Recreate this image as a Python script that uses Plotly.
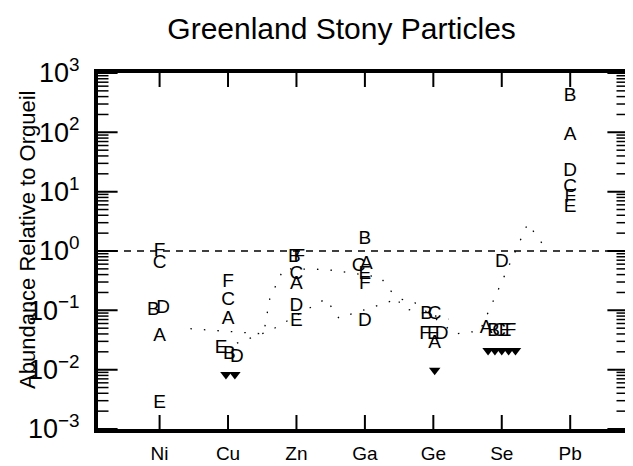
import plotly.graph_objects as go

# ---------------- data ----------------
elements = ["Ni", "Cu", "Zn", "Ga", "Ge", "Se", "Pb"]
samples = ["A", "B", "C", "D", "E", "F"]

A = [0.037, 0.071, 0.28, 0.59, 0.028, 0.050, 90]
B = [0.10, 0.018, 0.77, 1.6, 0.085, 0.045, 400]
C = [0.63, 0.15, 0.40, 0.55, 0.085, 0.045, 12]
D = [0.11, 0.016, 0.116, 0.066, 0.040, 0.65, 22]
E = [0.0027, 0.023, 0.066, 0.40, 0.040, 0.045, 5.5]
F = [1.0, 0.30, 0.77, 0.27, 0.040, 0.045, 8]
values = {"A": A, "B": B, "C": C, "D": D, "E": E, "F": F}

# upper limits (down triangles)
limit_elements = ["Cu", "Cu", "Ge", "Se", "Se", "Se", "Se", "Se"]
limit_values = [0.0083, 0.0083, 0.0098, 0.021, 0.021, 0.021, 0.021, 0.021]

# reference level (Orgueil = 1)
ref_level = 1.0

# faint dotted curves (category position, value)
dot1_x = [1.45, 2.52, 2.61, 2.81, 3.43, 4.23, 4.57, 5.22]
dot1_y = [0.049, 0.040, 0.157, 0.50, 0.49, 0.36, 0.108, 0.071]
dot2_x = [2.13, 2.61, 3.43, 3.62, 4.49, 4.71, 5.32, 5.68, 6.38, 6.62]
dot2_y = [0.028, 0.045, 0.157, 0.074, 0.157, 0.14, 0.040, 0.045, 2.9, 1.2]

# y axis decades and tick labels
decades = [-3, -2, -1, 0, 1, 2, 3]
ytick_alias = {"0.001": "10<sup>−3</sup>", "0.01": "10<sup>−2</sup>", "0.1": "10<sup>−1</sup>",
               "1": "10<sup>0</sup>", "10": "10<sup>1</sup>", "100": "10<sup>2</sup>",
               "1000": "10<sup>3</sup>"}

# ---------------- layout helpers ----------------
x_range = [0.1, 7.83]
shift = {
    "A": [0, 0, 0, 0.02, 0.02, -0.23, 0],
    "B": [-0.09, 0.02, -0.03, 0, -0.1, -0.12, 0],
    "C": [0, 0, 0, -0.09, 0.02, -0.04, 0],
    "D": [0.05, 0.13, 0, 0, 0.12, 0, 0],
    "E": [0, -0.1, 0, 0, 0.0, 0.05, 0],
    "F": [0, 0, 0.04, 0, -0.12, 0.13, 0],
}
limit_shift = [-0.03, 0.1, 0.02, -0.2, -0.1, 0.0, 0.1, 0.2]

pos = {e: i + 1 for i, e in enumerate(elements)}
FONT = "Liberation Sans"

fig = go.Figure()

# dashed reference line
fig.add_trace(go.Scatter(
    x=x_range, y=[ref_level, ref_level], mode="lines",
    line=dict(color="black", width=1.5, dash="7px,6px"),
    hoverinfo="skip", showlegend=False))

for xs, ys in [(dot1_x, dot1_y), (dot2_x, dot2_y)]:
    fig.add_trace(go.Scatter(
        x=xs, y=ys, mode="lines",
        line=dict(color="black", width=1.3, dash="1.5px,12px"),
        hoverinfo="skip", showlegend=False))

for s in samples:
    fig.add_trace(go.Scatter(
        x=[pos[e] + d for e, d in zip(elements, shift[s])],
        y=values[s], mode="text", text=[s] * len(elements),
        textfont=dict(family=FONT, size=19, color="black"),
        textposition="middle center", showlegend=False, name=s))

fig.add_trace(go.Scatter(
    x=[pos[e] + d for e, d in zip(limit_elements, limit_shift)],
    y=limit_values, mode="markers",
    marker=dict(symbol="triangle-down", size=10, color="black"),
    showlegend=False))

# ---- tick marks as line markers centred on the frame (outer half clipped) ----
major_y = [10 ** n for n in decades]
minor_y = [k * 10 ** n for n in decades[:-1] for k in range(2, 10)]
for edge in x_range:
    fig.add_trace(go.Scatter(
        x=[edge] * len(minor_y), y=minor_y, mode="markers", hoverinfo="skip",
        marker=dict(symbol="line-ew", size=15, line=dict(width=1.5, color="black")),
        showlegend=False))
    fig.add_trace(go.Scatter(
        x=[edge] * len(major_y), y=major_y, mode="markers", hoverinfo="skip",
        marker=dict(symbol="line-ew", size=28, line=dict(width=2, color="black")),
        showlegend=False))
for edge in [major_y[0], major_y[-1]]:
    fig.add_trace(go.Scatter(
        x=[pos[e] for e in elements], y=[edge] * len(elements), mode="markers",
        hoverinfo="skip",
        marker=dict(symbol="line-ns", size=20, line=dict(width=2, color="black")),
        showlegend=False))

fig.update_layout(
    width=633, height=466,
    margin=dict(l=90, r=10, t=65, b=34),
    paper_bgcolor="white", plot_bgcolor="white",
    title=dict(text="Greenland Stony Particles", x=0.527, xanchor="center",
               y=0.955, yanchor="middle",
               font=dict(family=FONT, size=30, color="black")),
    font=dict(family=FONT, color="black"),
)

fig.update_xaxes(
    range=x_range, tickvals=list(range(1, len(elements) + 1)), ticktext=elements,
    ticks="outside", ticklen=4, tickcolor="white",
    showline=True, linewidth=4, linecolor="black", mirror=True,
    showgrid=False, zeroline=False,
    tickfont=dict(family=FONT, size=19, color="black"))

fig.update_yaxes(
    type="log", range=[-3, 3], dtick=1,
    labelalias=ytick_alias, ticklabelstandoff=8,
    ticks="outside", ticklen=1, tickcolor="white",
    showline=True, linewidth=4, linecolor="black", mirror=True,
    showgrid=False, zeroline=False,
    tickfont=dict(family=FONT, size=27, color="black"))

fig.add_annotation(
    text="Abundance Relative to Orgueil", textangle=-90,
    xref="paper", yref="paper", x=-0.133, y=0.53, xanchor="center", yanchor="middle",
    showarrow=False, font=dict(family=FONT, size=22, color="black"))

fig.write_html("out.html")
